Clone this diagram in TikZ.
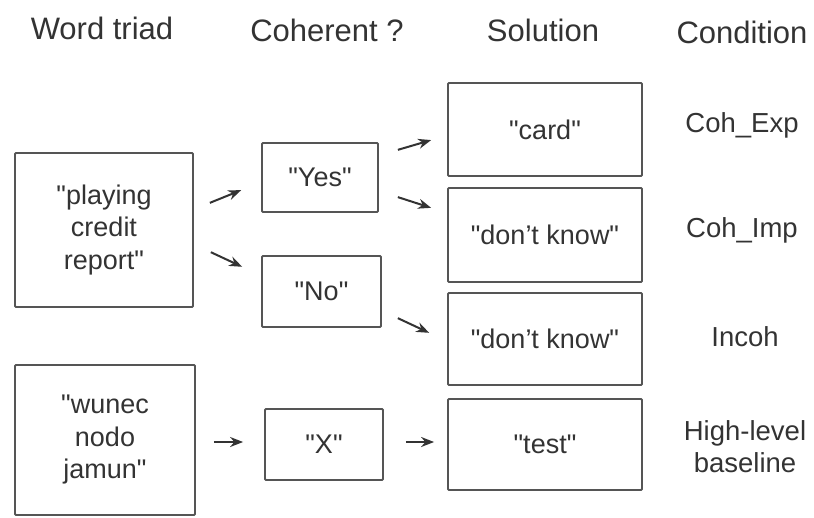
\documentclass[tikz,border=0pt]{standalone}
\usepackage{fontspec}
\setmainfont{Liberation Sans}
\usetikzlibrary{arrows.meta}
\definecolor{inkgray}{HTML}{333333}
\definecolor{linegray}{HTML}{555555}
\newcommand{\qt}{\textquotedbl}

\tikzset{
  head/.style={font=\fontsize{31}{36}\selectfont, text=inkgray},
  cond/.style={font=\fontsize{27.5}{32}\selectfont, text=inkgray, align=center},
  box/.style={draw=linegray, line width=1.8pt, rounded corners=1pt, align=center,
    font=\fontsize{27}{32.5}\selectfont, text=inkgray, inner sep=0pt},
  arr/.style={-{Stealth[length=13pt,width=10pt]}, line width=2pt, inkgray}
}

\begin{document}
\begin{tikzpicture}[x=1pt,y=-1pt]
\useasboundingbox (0,0) rectangle (814,517);

% column headers
\node[head] (hTriad) at (102,28) {Word triad};
\node[head] (hCoh) at (327,30) {Coherent ?};
\node[head] (hSol) at (543,30) {Solution};
\node[head] (hCond) at (742,32) {Condition};

% word triads
\node[box, minimum width=178pt, minimum height=154pt] (triadA) at (104,230) {\qt playing\\credit\\report\qt};
\node[box, minimum width=180pt, minimum height=150pt] (triadB) at (105,440) {\qt wunec\\nodo\\jamun\qt};

% coherence judgement
\node[box, minimum width=116pt, minimum height=69pt] (yes) at (320,177.5) {\qt Yes\qt};
\node[box, minimum width=119pt, minimum height=71pt] (no) at (321.5,291.5) {\qt No\qt};
\node[box, minimum width=118pt, minimum height=71pt] (xbox) at (324,444.5) {\qt X\qt};

% solutions
\node[box, minimum width=194pt, minimum height=93pt] (card) at (545,129.5) {\qt card\qt};
\node[box, minimum width=194pt, minimum height=94pt] (dkA) at (545,235) {\qt don't know\qt};
\node[box, minimum width=194pt, minimum height=92pt] (dkB) at (545,339) {\qt don't know\qt};
\node[box, minimum width=194pt, minimum height=91pt] (test) at (545,444.5) {\qt test\qt};

% conditions
\node[cond] (cExp) at (742,125) {Coh\_Exp};
\node[cond] (cImp) at (742,230) {Coh\_Imp};
\node[cond] (cInc) at (745,337) {Incoh};
\node[cond] (cBase) at (745,447) {High-level\\baseline};

% arrows
\draw[arr, shorten <=17.2pt, shorten >=21.5pt] ([yshift=20.7pt]triadA.east) -- ([yshift=-4.6pt]yes.west);
\draw[arr, shorten <=18.7pt, shorten >=20.9pt] ([yshift=-14.3pt]triadA.east) -- ([yshift=15.9pt]no.west);
\draw[arr, shorten <=19.8pt, shorten >=16.6pt] ([yshift=22.1pt]yes.east) -- ([yshift=-5.9pt]card.west);
\draw[arr, shorten <=19.9pt, shorten >=16.8pt] ([yshift=-13.5pt]yes.east) -- ([yshift=22pt]dkA.west);
\draw[arr, shorten <=17.6pt, shorten >=19.8pt] ([yshift=-19.2pt]no.east) -- ([yshift=-2.2pt]dkB.west);
\draw[arr, shorten <=18pt, shorten >=21pt] ([yshift=-2pt]triadB.east) -- ([yshift=2.5pt]xbox.west);
\draw[arr, shorten <=22pt, shorten >=13pt] ([yshift=2.5pt]xbox.east) -- ([yshift=2.5pt]test.west);

\end{tikzpicture}
\end{document}
